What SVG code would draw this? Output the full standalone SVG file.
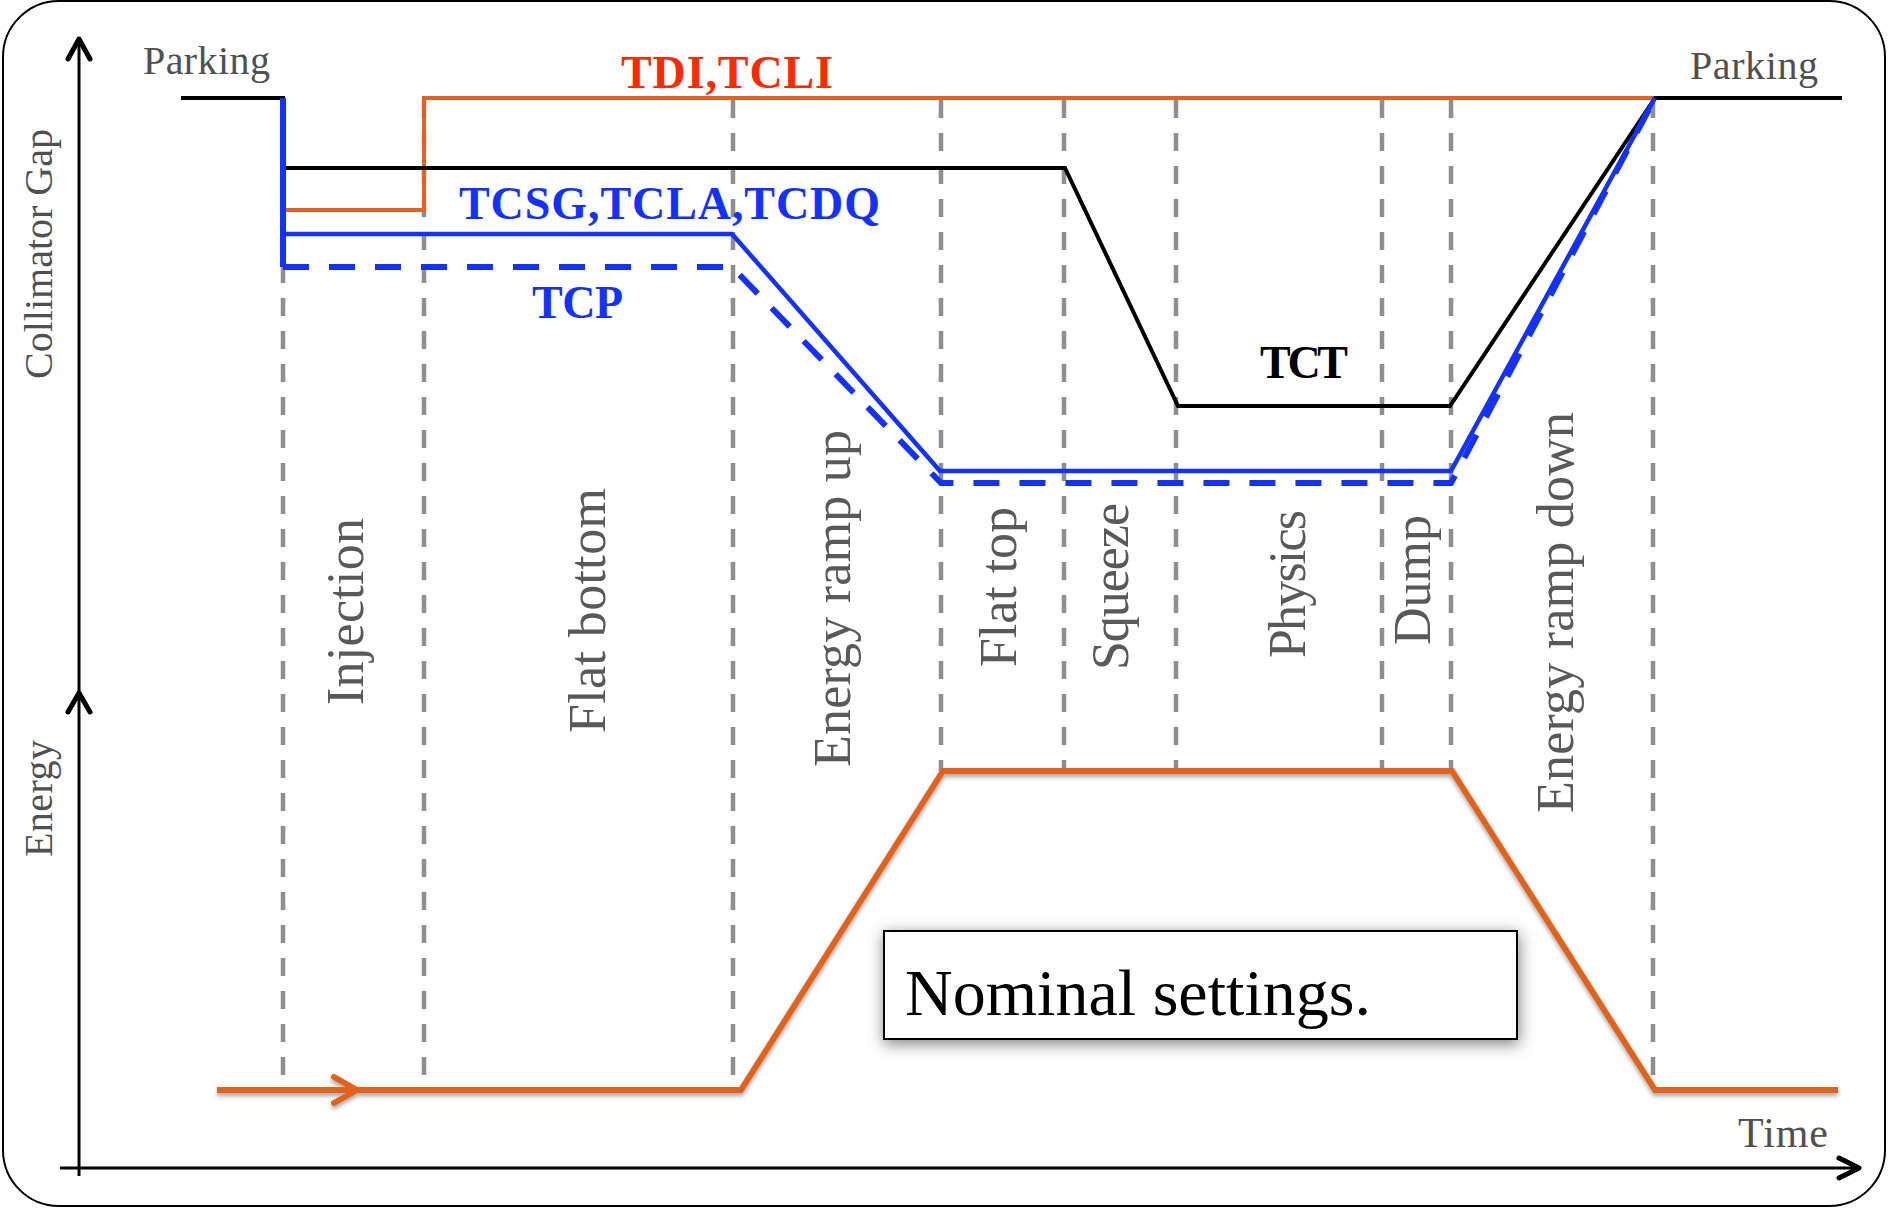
<svg xmlns="http://www.w3.org/2000/svg" width="1888" height="1208" viewBox="0 0 1888 1208">
<style>
.ax{fill:none;stroke:#000;stroke-width:3}
.ah{fill:none;stroke:#000;stroke-width:5;stroke-linecap:round;stroke-linejoin:round}
.grid{fill:none;stroke:#8e8e8e;stroke-width:4.5;stroke-dasharray:18 15}
.lbl{font-family:"Liberation Serif","Times New Roman",serif;fill:#505050}
.phase{font-family:"Liberation Serif","Times New Roman",serif;fill:#595959;font-size:52px}
.tag{font-family:"Liberation Serif","Times New Roman",serif;font-weight:bold;font-size:46px}
.orange{fill:none;stroke:#E2621F;stroke-width:4;stroke-linejoin:miter}
.black{fill:none;stroke:#000;stroke-width:4;stroke-linejoin:miter}
.blue{fill:none;stroke:#1432FF;stroke-width:4.5}
.bluedash{fill:none;stroke:#1432FF;stroke-width:6;stroke-dasharray:26 20}
.energy{fill:none;stroke:#E2621F;stroke-width:6;stroke-linejoin:miter}
</style>
<defs>
<filter id="sh" x="-5%" y="-20%" width="110%" height="150%">
<feDropShadow dx="0" dy="3" stdDeviation="2" flood-color="#000" flood-opacity="0.35"/>
</filter>
<filter id="boxsh" x="-10%" y="-40%" width="120%" height="190%">
<feDropShadow dx="1" dy="4" stdDeviation="8" flood-color="#000" flood-opacity="0.5"/>
</filter>
</defs>
<rect width="1888" height="1208" fill="#fff"/>
<rect id="frame" x="3" y="1" width="1882" height="1205" rx="56" ry="56" fill="none" stroke="#000" stroke-width="2"/>

<g id="phase-lines">
<line class="grid" x1="283" y1="100" x2="283" y2="1090"/>
<line class="grid" x1="424" y1="100" x2="424" y2="1090"/>
<line class="grid" x1="733" y1="100" x2="733" y2="1090"/>
<line class="grid" x1="941" y1="100" x2="941" y2="771"/>
<line class="grid" x1="1064" y1="100" x2="1064" y2="771"/>
<line class="grid" x1="1176" y1="100" x2="1176" y2="771"/>
<line class="grid" x1="1382" y1="100" x2="1382" y2="771"/>
<line class="grid" x1="1451" y1="100" x2="1451" y2="771"/>
<line class="grid" x1="1653" y1="100" x2="1653" y2="1090"/>
</g>

<g id="axes">
<line class="ax" x1="79" y1="39" x2="79" y2="1176"/>
<line class="ax" x1="60" y1="1168" x2="1859" y2="1168"/>
<polyline class="ah" points="68,59 79,39 90,59"/>
<polyline class="ah" points="68,712 79,693 90,712"/>
<polyline class="ah" points="1839,1158 1859,1168 1839,1178"/>
</g>

<g id="curves">
<polyline id="tdi" class="orange" points="283,98 283,210 424,210 424,98 1842,98"/>
<polyline id="tct" class="black" points="181,98 283,98 283,168 1065,168 1178,406 1450,406 1655,98 1842,98"/>
<line x1="283" y1="98" x2="283" y2="267" stroke="#1432FF" stroke-width="6"/>
<polyline id="tcsg" class="blue" points="283,234 732,234 940,471 1451,471 1655,98"/>
<polyline id="tcp" class="bluedash" points="283,267 732,267 941,483 1451,483 1655,98"/>
<g filter="url(#sh)">
<polyline id="energy" class="energy" points="217,1090 741,1090 943,771 1452,771 1655,1090 1838,1090"/>
<polyline points="334,1077 357,1090 334,1103" fill="none" stroke="#E2621F" stroke-width="6" stroke-linecap="round" stroke-linejoin="round"/>
</g>
</g>

<g id="axis-labels">
<text class="lbl" font-size="40" x="143" y="74" textLength="127">Parking</text>
<text class="lbl" font-size="40" x="1690" y="79" textLength="128">Parking</text>
<text class="lbl" font-size="42" x="1738" y="1147" textLength="90">Time</text>
<text class="lbl" font-size="40" transform="translate(52,379) rotate(-90)" textLength="250">Collimator Gap</text>
<text class="lbl" font-size="40" transform="translate(52,857) rotate(-90)" textLength="117">Energy</text>
</g>

<g id="phase-labels">
<text class="phase" transform="translate(363,705) rotate(-90)" textLength="187">Injection</text>
<text class="phase" transform="translate(605,733) rotate(-90)" textLength="245">Flat bottom</text>
<text class="phase" transform="translate(850,767) rotate(-90)" textLength="337">Energy ramp up</text>
<text class="phase" transform="translate(1016,667) rotate(-90)" textLength="160">Flat top</text>
<text class="phase" transform="translate(1128,670) rotate(-90)" textLength="167">Squeeze</text>
<text class="phase" transform="translate(1305,658) rotate(-90)" textLength="148">Physics</text>
<text class="phase" transform="translate(1430,645) rotate(-90)" textLength="130">Dump</text>
<text class="phase" transform="translate(1573,813) rotate(-90)" textLength="401">Energy ramp down</text>
</g>

<g id="collimator-labels">
<text class="tag" fill="#FF2A00" x="621" y="88" textLength="212">TDI,TCLI</text>
<text class="tag" fill="#1432FF" x="459" y="219" textLength="421">TCSG,TCLA,TCDQ</text>
<text class="tag" fill="#1432FF" x="532" y="318" textLength="91">TCP</text>
<text class="tag" fill="#000" font-size="42" x="1260" y="378" textLength="88">TCT</text>
</g>

<g id="note">
<rect x="884" y="931" width="633" height="108" fill="#fff" stroke="#000" stroke-width="2" filter="url(#boxsh)"/>
<text x="905" y="1015" font-family="'Liberation Serif','Times New Roman',serif" font-size="66" fill="#000" textLength="466">Nominal settings.</text>
</g>
</svg>
